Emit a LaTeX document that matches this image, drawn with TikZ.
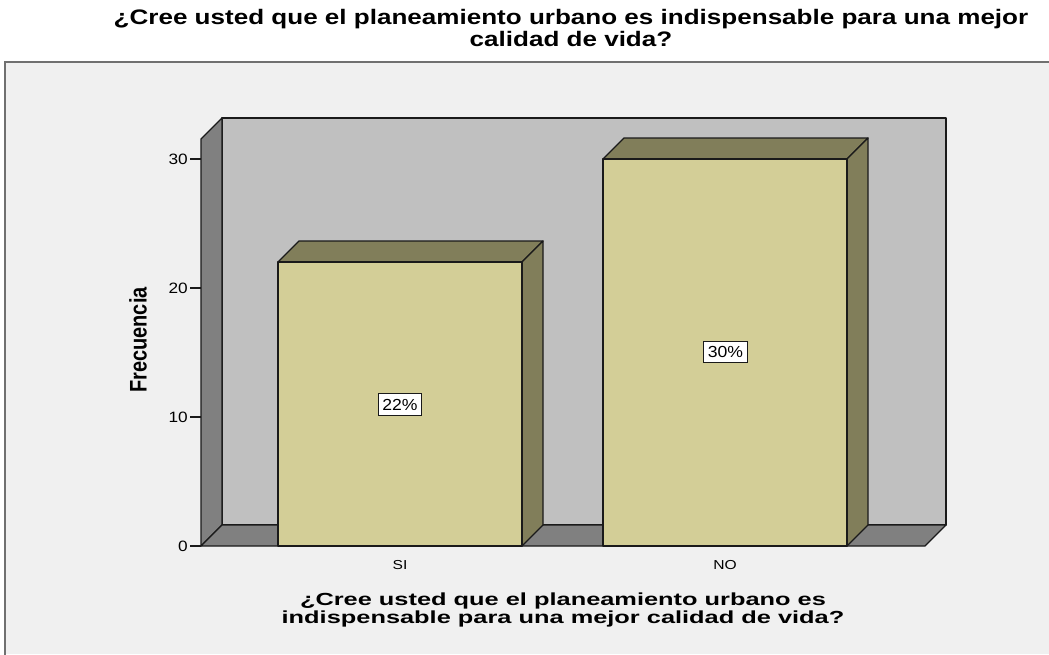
\documentclass[tikz,border=0pt]{standalone}
\usepackage{fontspec}
\setmainfont{Liberation Sans}
\usepackage{graphicx}
\definecolor{framebg}{HTML}{F0F0F0}
\definecolor{framegray}{HTML}{707070}
\definecolor{wallback}{HTML}{C0C0C0}
\definecolor{wallside}{HTML}{808080}
\definecolor{barfront}{HTML}{D3CE97}
\definecolor{barshade}{HTML}{817E5A}
\definecolor{edge}{HTML}{1A1A1A}
\tikzset{
  facestyle/.style={draw=edge, line width=1.3pt, line join=round},
  titletext/.style={font=\fontsize{21}{24}\bfseries, anchor=base, inner sep=0pt},
  axistext/.style={font=\fontsize{17.5}{20}\bfseries, anchor=base, inner sep=0pt},
  ticktext/.style={font=\fontsize{15}{18}\selectfont, anchor=east, inner sep=0pt},
  cattext/.style={font=\fontsize{13}{15}\selectfont, anchor=center, inner sep=0pt},
  pctbox/.style={draw=edge, line width=1.2pt, fill=white, font=\fontsize{16}{18}\selectfont,
    inner xsep=4pt, inner ysep=5pt, anchor=center},
}
\begin{document}
\begin{tikzpicture}[x=1pt,y=-1pt]
\useasboundingbox (0,0) rectangle (1049,654);
\fill[white] (0,0) rectangle (1049,654);
% outer chart frame
\fill[framebg] (5,62) rectangle (1049,654);
\draw[framegray, line width=1.5pt] (5,660) -- (5,62) -- (1055,62);
% titles
\node[titletext] (t1) at (571,24) {\scalebox{1.24}[1]{¿Cree usted que el planeamiento urbano es indispensable para una mejor}};
\node[titletext] (t2) at (571,46) {\scalebox{1.24}[1]{calidad de vida?}};
% walls
\filldraw[facestyle, fill=wallback] (222,118) rectangle (946,525);
\filldraw[facestyle, fill=wallside] (201,139) -- (222,118) -- (222,525) -- (201,546) -- cycle;
\filldraw[facestyle, fill=wallside] (201,546) -- (222,525) -- (946,525) -- (925,546) -- cycle;
% bar SI
\filldraw[facestyle, fill=barshade] (278,262) -- (299,241) -- (543,241) -- (522,262) -- cycle;
\filldraw[facestyle, fill=barshade] (522,262) -- (543,241) -- (543,525) -- (522,546) -- cycle;
\filldraw[facestyle, fill=barfront] (278,262) rectangle (522,546);
% bar NO
\filldraw[facestyle, fill=barshade] (603,159) -- (624,138) -- (868,138) -- (847,159) -- cycle;
\filldraw[facestyle, fill=barshade] (847,159) -- (868,138) -- (868,525) -- (847,546) -- cycle;
\filldraw[facestyle, fill=barfront] (603,159) rectangle (847,546);
% y ticks
\foreach \v/\yy in {0/546,10/417,20/288,30/159}{
  \coordinate (tk\v) at (190,\yy);
  \draw[edge, line width=1.2pt] (tk\v) -- (201,\yy);
  \node[ticktext] (tl\v) at (188,\yy) {\scalebox{1.15}[1]{\v}};
}
% percentage labels
\node[pctbox] (p22) at (400,404.5) {\scalebox{1.1}[1]{22\%}};
\node[pctbox] (p30) at (725.5,352) {\scalebox{1.1}[1]{30\%}};
% category labels
\node[cattext] (cSI) at (400,565) {\scalebox{1.2}[1]{SI}};
\node[cattext] (cNO) at (725,565) {\scalebox{1.2}[1]{NO}};
% axis titles
\node[axistext] (x1) at (563,605) {\scalebox{1.45}[1]{¿Cree usted que el planeamiento urbano es}};
\node[axistext] (x2) at (563,623) {\scalebox{1.45}[1]{indispensable para una mejor calidad de vida?}};
\node[font=\fontsize{20}{24}\bfseries, rotate=90, inner sep=0pt] (yt) at (138,340) {\scalebox{1}[1.2]{Frecuencia}};
\end{tikzpicture}
\end{document}
